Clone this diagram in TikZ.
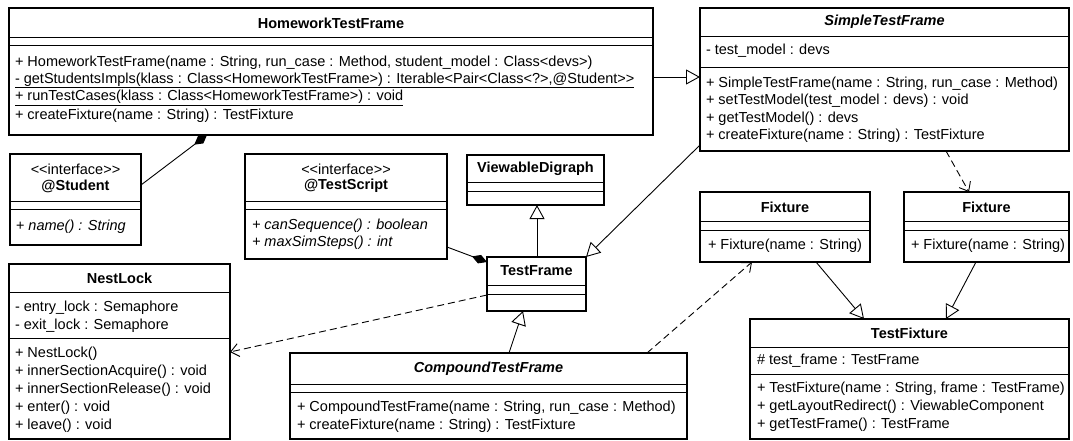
\documentclass[tikz,border=0pt]{standalone}
\usepackage{fontspec}
\newfontfamily\umlfont{Liberation Sans}
\usetikzlibrary{arrows.meta,calc}
\begin{document}
\begin{tikzpicture}[x=1pt,y=-1pt,
  every node/.style={font=\umlfont\fontsize{14.5}{17}\selectfont, inner sep=0pt, outer sep=0pt},
  clsbox/.style={draw, line width=2.4pt, anchor=north west, fill=white},
  sepline/.style={line width=0.9pt},
  ttl/.style={font=\umlfont\fontsize{14.5}{17}\selectfont\bfseries},
  ittl/.style={font=\umlfont\fontsize{14.5}{17}\selectfont\bfseries\itshape},
  mrow/.style={anchor=west},
  irow/.style={anchor=west, font=\umlfont\fontsize{14.5}{17}\selectfont\itshape},
  gen/.style={line width=0.9pt, -{Triangle[open, length=14pt, width=15pt, fill=white, line width=0.9pt]}},
  dep/.style={line width=0.9pt, dash pattern=on 7pt off 4pt, -{Straight Barb[length=8pt, width=13pt, line width=0.9pt]}},
  comp/.style={line width=0.9pt, {Diamond[length=16pt, width=9pt, fill=black]}-}
]
\useasboundingbox (0,0) rectangle (1073,441);
\fill[white] (0,0) rectangle (1073,441);

% ---------- boxes ----------
\node[clsbox, minimum width=644pt, minimum height=127pt] (htf) at (9,8) {};
\node[clsbox, minimum width=369pt, minimum height=143pt] (stf) at (700,8) {};
\node[clsbox, minimum width=131pt, minimum height=91pt] (student) at (10,154) {};
\node[clsbox, minimum width=202pt, minimum height=105pt] (tscript) at (245,154) {};
\node[clsbox, minimum width=137pt, minimum height=50pt] (vd) at (467,155) {};
\node[clsbox, minimum width=99pt, minimum height=54pt] (tf) at (487,257) {};
\node[clsbox, minimum width=221pt, minimum height=175pt] (nest) at (9,264) {};
\node[clsbox, minimum width=397pt, minimum height=86pt] (ctf) at (290,353) {};
\node[clsbox, minimum width=170pt, minimum height=70pt] (fixl) at (700,192) {};
\node[clsbox, minimum width=165pt, minimum height=70pt] (fixr) at (904,192) {};
\node[clsbox, minimum width=319pt, minimum height=120pt] (tfix) at (750,319) {};

% ---------- separators ----------
\draw[sepline] (9,37) -- (653,37) (9,45) -- (653,45);
\draw[sepline] (700,36) -- (1069,36) (700,67) -- (1069,67);
\draw[sepline] (10,201) -- (141,201) (10,209) -- (141,209);
\draw[sepline] (245,201) -- (447,201) (245,209) -- (447,209);
\draw[sepline] (467,182) -- (604,182) (467,191) -- (604,191);
\draw[sepline] (487,285) -- (586,285) (487,294) -- (586,294);
\draw[sepline] (9,292) -- (230,292) (9,338) -- (230,338);
\draw[sepline] (290,384) -- (687,384) (290,392) -- (687,392);
\draw[sepline] (700,221) -- (870,221) (700,230) -- (870,230);
\draw[sepline] (904,221) -- (1069,221) (904,230) -- (1069,230);
\draw[sepline] (750,347) -- (1069,347) (750,374) -- (1069,374);

% ---------- texts ----------
\node[ttl] (htf-t) at (331,23) {HomeworkTestFrame};
\node[mrow] (htf-1) at (15,63) {+ HomeworkTestFrame(name : String, run\_case : Method, student\_model : Class<devs>)};
\node[mrow] (htf-2) at (15,80.5) {\underline{- getStudentsImpls(klass : Class<HomeworkTestFrame>) : Iterable<Pair<Class<?>,@Student>>}};
\node[mrow] (htf-3) at (15,98) {\underline{+ runTestCases(klass : Class<HomeworkTestFrame>) : void}};
\node[mrow] (htf-4) at (15,115.5) {+ createFixture(name : String) : TestFixture};

\node[ittl] (stf-t) at (884.5,22) {SimpleTestFrame};
\node[mrow] (stf-a) at (706,51) {- test\_model : devs};
\node[mrow] (stf-1) at (706,83.5) {+ SimpleTestFrame(name : String, run\_case : Method)};
\node[mrow] (stf-2) at (706,101) {+ setTestModel(test\_model : devs) : void};
\node[mrow] (stf-3) at (706,118.5) {+ getTestModel() : devs};
\node[mrow] (stf-4) at (706,136) {+ createFixture(name : String) : TestFixture};

\node (st-s) at (75.5,169) {<<interface>>};
\node[ttl] (st-t) at (75.5,186) {@Student};
\node[irow] (st-1) at (16,227) {+ name() : String};

\node (ts-s) at (346,169) {<<interface>>};
\node[ttl] (ts-t) at (346,186) {@TestScript};
\node[irow] (ts-1) at (252,226) {+ canSequence() : boolean};
\node[irow] (ts-2) at (252,243) {+ maxSimSteps() : int};

\node[ttl] (vd-t) at (535.5,169) {ViewableDigraph};
\node[ttl] (tf-t) at (536.5,271) {TestFrame};

\node[ttl] (nl-t) at (119.5,278) {NestLock};
\node[mrow] (nl-a1) at (15,308) {- entry\_lock : Semaphore};
\node[mrow] (nl-a2) at (15,326) {- exit\_lock : Semaphore};
\node[mrow] (nl-1) at (15,354) {+ NestLock()};
\node[mrow] (nl-2) at (15,372) {+ innerSectionAcquire() : void};
\node[mrow] (nl-3) at (15,390) {+ innerSectionRelease() : void};
\node[mrow] (nl-4) at (15,408) {+ enter() : void};
\node[mrow] (nl-5) at (15,426) {+ leave() : void};

\node[ittl] (ctf-t) at (488.5,369) {CompoundTestFrame};
\node[mrow] (ctf-1) at (297,408) {+ CompoundTestFrame(name : String, run\_case : Method)};
\node[mrow] (ctf-2) at (297,426) {+ createFixture(name : String) : TestFixture};

\node[ttl] (fl-t) at (785,207) {Fixture};
\node[mrow] (fl-1) at (708,246) {+ Fixture(name : String)};
\node[ttl] (fr-t) at (986.5,207) {Fixture};
\node[mrow] (fr-1) at (911,246) {+ Fixture(name : String)};

\node[ttl] (tx-t) at (909.5,333) {TestFixture};
\node[mrow] (tx-a) at (757,361) {\# test\_frame : TestFrame};
\node[mrow] (tx-1) at (757,389) {+ TestFixture(name : String, frame : TestFrame)};
\node[mrow] (tx-2) at (757,407) {+ getLayoutRedirect() : ViewableComponent};
\node[mrow] (tx-3) at (757,425) {+ getTestFrame() : TestFrame};

% ---------- connectors ----------
\draw[gen] (htf.east |- 0,77) -- (stf.west |- 0,77);
\draw[comp] (htf.south -| 207,0) -- (student.east |- 0,185);
\draw[comp] (tf.west |- 0,262) -- (tscript.east |- 0,247);
\draw[gen] (tf.north -| 537,0) -- (vd.south -| 537,0);
\draw[gen] (stf.west |- 0,145) -- (tf.north east);
\draw[gen] (ctf.north -| 509,0) -- (tf.south -| 523,0);
\draw[dep] (tf.west |- 0,295) -- (nest.east |- 0,352);
\draw[dep] (ctf.north -| 647,0) -- (fixl.south -| 752,0);
\draw[dep] (stf.south -| 946,0) -- (fixr.north -| 969,0);
\draw[gen] (fixl.south -| 816,0) -- (tfix.north -| 864,0);
\draw[gen] (fixr.south -| 976,0) -- (tfix.north -| 946,0);
\end{tikzpicture}
\end{document}
